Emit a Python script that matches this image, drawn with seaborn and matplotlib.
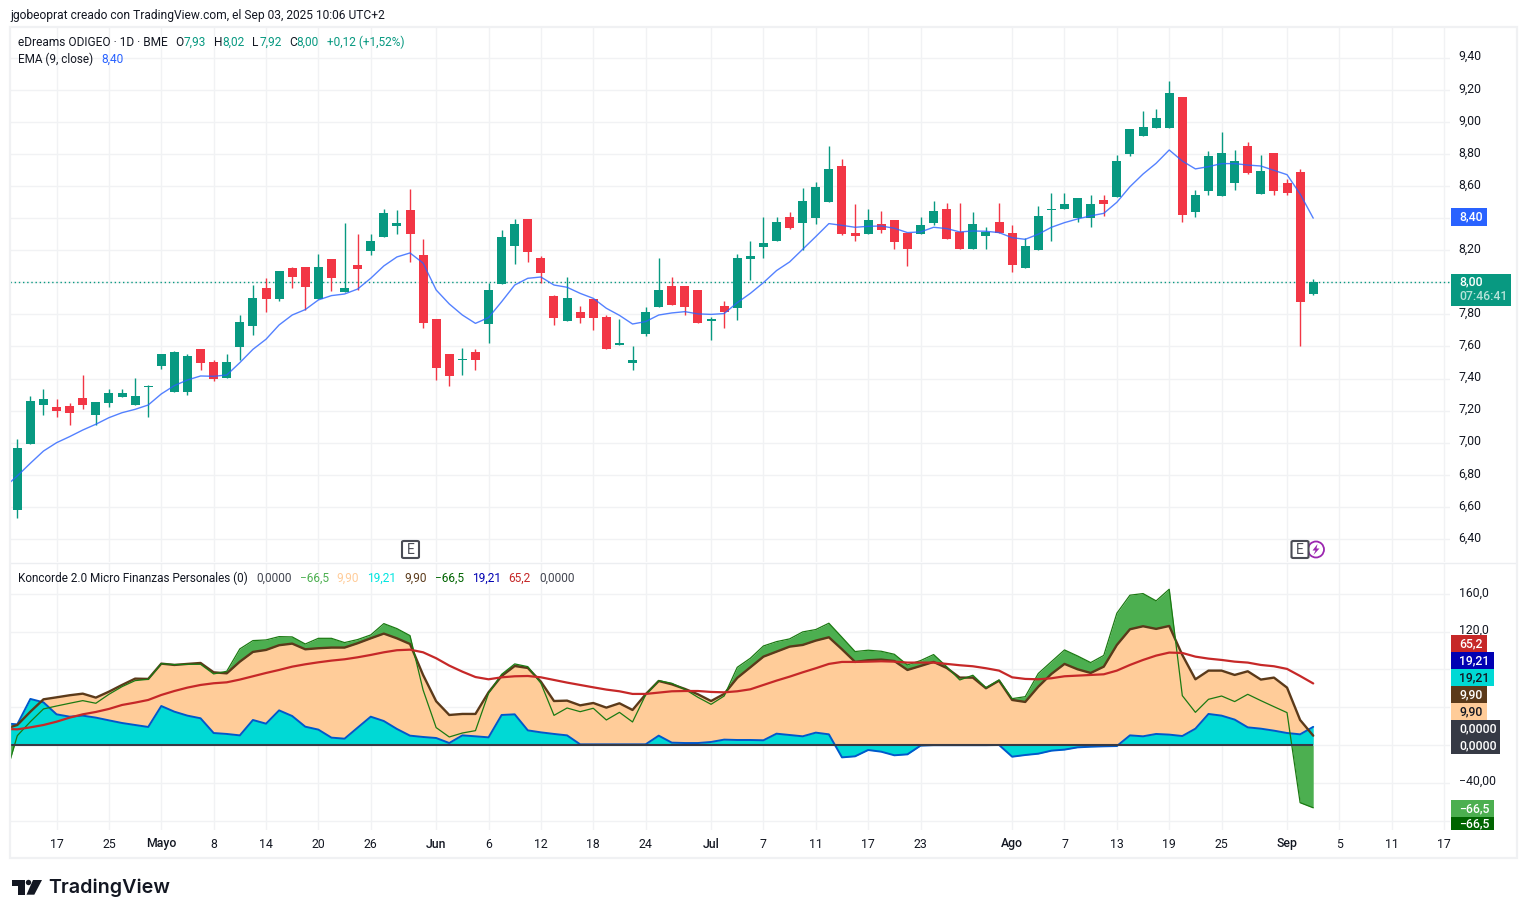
import matplotlib
matplotlib.use("Agg")
import matplotlib.pyplot as plt
import numpy as np
import pandas as pd
import seaborn as sns
from matplotlib.patches import Rectangle, FancyBboxPatch, Polygon, Circle
from matplotlib.transforms import ScaledTranslation

# Daily candles for eDreams ODIGEO (BME)
opens = [6.58,6.99,7.235,7.22,7.23,7.28,7.17,7.25,7.285,7.235,7.345,7.478,7.316,7.316,7.584,7.503,7.403,7.597,7.728,7.965,
         7.896,8.09,8.096,7.896,8.146,7.94,8.109,8.196,8.283,8.352,8.451,8.171,7.771,7.553,7.518,7.566,7.74,7.99,8.227,8.395,
         8.152,7.915,7.759,7.815,7.896,7.784,7.61,7.497,7.678,7.846,7.977,7.977,7.952,7.759,7.852,7.84,8.145,8.22,8.258,8.407,
         8.37,8.401,8.50,8.725,8.308,8.301,8.364,8.389,8.308,8.301,8.37,8.457,8.314,8.208,8.289,8.376,8.308,8.089,8.202,8.451,
         8.457,8.401,8.401,8.513,8.532,8.80,8.912,8.962,8.962,9.155,8.438,8.569,8.538,8.619,8.85,8.551,8.806,8.619,8.688,7.93]
highs = [7.02,7.29,7.335,7.27,7.25,7.42,7.255,7.335,7.335,7.405,7.36,7.553,7.57,7.553,7.584,7.516,7.553,7.796,7.983,8.027,
         8.071,8.096,8.096,8.177,8.146,8.37,8.30,8.30,8.458,8.451,8.582,8.27,7.771,7.553,7.59,7.584,7.996,8.326,8.395,8.395,
         8.164,7.921,8.033,7.852,7.896,7.796,7.771,7.603,7.846,8.152,8.033,7.977,7.952,7.784,7.884,8.177,8.258,8.407,8.407,8.438,
         8.588,8.626,8.85,8.769,8.488,8.457,8.445,8.389,8.308,8.407,8.507,8.495,8.495,8.438,8.345,8.495,8.357,8.276,8.476,8.557,
         8.557,8.526,8.545,8.545,8.794,8.956,9.068,9.081,9.255,9.155,8.576,8.819,8.937,8.825,8.875,8.794,8.806,8.644,8.707,8.02]
lows = [6.53,6.99,7.17,7.16,7.11,7.21,7.11,7.22,7.285,7.235,7.16,7.46,7.316,7.30,7.453,7.385,7.403,7.516,7.672,7.815,
        7.884,7.965,7.827,7.896,7.946,7.94,7.952,8.17,8.283,8.30,8.127,7.715,7.391,7.354,7.422,7.453,7.622,7.99,8.114,8.127,
        7.996,7.734,7.759,7.746,7.703,7.584,7.61,7.453,7.665,7.846,7.859,7.796,7.746,7.64,7.715,7.765,8.015,8.152,8.258,8.333,
        8.20,8.364,8.50,8.295,8.258,8.301,8.308,8.208,8.102,8.301,8.357,8.27,8.208,8.208,8.208,8.308,8.064,8.089,8.202,8.258,
        8.457,8.376,8.345,8.414,8.532,8.788,8.912,8.962,8.962,8.376,8.407,8.545,8.538,8.576,8.675,8.551,8.545,8.545,7.603,7.92]
closes = [6.97,7.26,7.27,7.20,7.185,7.235,7.255,7.31,7.31,7.29,7.35,7.553,7.566,7.54,7.497,7.397,7.503,7.753,7.902,7.896,
          8.071,8.034,7.97,8.096,8.027,7.965,8.084,8.258,8.433,8.37,8.30,7.746,7.466,7.416,7.522,7.516,7.952,8.283,8.364,8.189,
          8.058,7.778,7.902,7.778,7.778,7.584,7.622,7.516,7.815,7.952,7.859,7.846,7.746,7.771,7.815,8.152,8.164,8.245,8.376,8.339,
          8.507,8.594,8.707,8.301,8.289,8.389,8.326,8.251,8.208,8.357,8.445,8.27,8.208,8.364,8.314,8.308,8.108,8.227,8.414,8.457,
          8.488,8.526,8.488,8.488,8.756,8.956,8.968,9.025,9.18,8.42,8.545,8.788,8.806,8.756,8.682,8.694,8.569,8.557,7.877,8.00]

# The indicator series begin one session before the first visible candle
ema9 = [6.72,6.793,6.872,6.948,7.0,7.038,7.079,7.115,7.156,7.187,7.208,7.235,7.304,7.356,7.391,7.416,7.414,7.422,7.499,7.582,7.645,
        7.734,7.796,7.83,7.89,7.917,7.927,7.958,8.025,8.102,8.158,8.183,8.12,7.952,7.865,7.796,7.744,7.78,7.879,7.983,8.025,
        8.033,7.983,7.969,7.931,7.9,7.838,7.794,7.74,7.755,7.796,7.809,7.817,7.803,7.8,7.805,7.873,7.931,7.998,8.073,8.127,
        8.206,8.285,8.366,8.355,8.343,8.349,8.351,8.337,8.31,8.314,8.343,8.335,8.314,8.32,8.318,8.31,8.278,8.268,8.30,8.343,
        8.372,8.395,8.414,8.43,8.499,8.596,8.675,8.742,8.825,8.756,8.707,8.721,8.74,8.74,8.731,8.725,8.698,8.671,8.551,8.40]

# Koncorde components
verde = [-37,9.9,24.7,38.2,41.3,44.2,47,44.2,53.7,61.8,68.2,69.6,86.2,85.2,85.5,85.5,75.3,78.1,101.8,110.6,111.3,
         114.8,114.5,107,113,113,108.5,111.7,116.6,128.6,123.3,115.9,58.3,18.4,8.5,12.7,15.2,54.8,74.9,85.9,83,
         65.4,31.4,39.2,35.3,38.9,26.5,34.6,24.4,53,68.2,65.4,59,50.5,43.1,51.9,82.3,91.9,104.9,109.5,112.4,
         119.8,122.3,129,114.1,99,100.4,99.3,96.1,84.8,89.4,95.8,83,68.9,73.9,60.8,68.9,49.1,51.2,75.8,88.3,
         100.7,94.3,87.3,94.9,139.6,158.7,160.4,152.7,165,52.3,34.6,48.4,51.9,46,53.7,47,40.6,34.3,-61.1,-66.5]
marron = [17,21.2,35.3,48.4,50.5,52.7,54.4,50.2,56.5,63.6,70.3,70,86.2,84.8,85.9,86.9,77,75.9,88.3,98.6,100.7,
          105.7,107.4,101.4,102.5,103.2,103.2,107.8,113,118,113,107,74.2,46.3,31.8,32.9,32.9,55.8,73.1,83.7,81.6,
          67.1,46.6,47,42,44.5,39.6,44.2,37.1,53.7,67.8,64.3,59.4,53.7,46.6,54.1,71.1,82.3,93.6,98.9,104.2,
          106,110.6,114.1,101.4,88,89.8,90.5,89,79.5,83.7,88,81.6,71.4,71.4,60.1,68.2,47.7,45.6,61.8,75.3,
          85.9,80.2,76.3,83,106,122.6,125.8,123,126.1,95.4,69.6,78.8,78.8,74.2,78.1,69.3,71.4,60.8,26.5,9.9]
azul = [22.9,21.9,48.8,45.2,32.5,30,31.1,29,26.1,23.3,21.2,19.1,41.3,35.3,31.1,28.3,12.7,11.7,10.2,26.5,22.6,
        36.7,30.7,19.4,16.3,7.8,6.7,18.4,30,25.4,17,9.9,8.5,7.4,2.1,10.2,9.2,8.1,31.8,32.5,15.5,
        13.4,11.7,10.2,0.7,0.7,0.7,0.7,0.7,0.7,9.9,2.5,2.1,2.1,3.2,5.7,5.3,5.3,5,12,10.6,
        9.2,13.1,11.3,-13.1,-12,-5.3,-7.1,-10.9,-9.9,-0.7,-0.2,-0.2,-0.2,-0.2,-0.2,0,-12.4,-10.6,-9.2,-6,
        -4.9,-2.5,-1.8,-1.4,-1.1,10.2,9.2,11.7,11,9.5,17.3,32.9,31.1,26.9,18.7,17.3,15.2,12.7,11.3,19.21]
media = [17,16.6,18.7,21.2,24.7,29,32.5,35,38.2,42.4,44.9,47.7,53,57.2,60.8,63.6,65.4,66.4,69.3,72.8,76.3,
         79.5,83,85.5,87.6,89.4,90.8,92.9,95.4,98.2,100.4,101,98.2,91.9,84.1,77.7,72,69.6,71.7,72.8,73.1,
         71.7,68.9,66.1,63.6,61.1,58.7,56.9,54.1,54.1,55.5,56.9,57.2,57.2,56.2,55.8,56.9,59,63.6,68.2,72.4,
         77,81.3,85.9,88,88,88.3,88.7,88.3,87.3,87.3,87.3,85.9,84.5,83.4,81.3,78.8,71.7,70,69.6,70.7,
         72.8,73.5,74.2,74.9,78.8,84.8,90.1,94.7,97.9,97.5,93.6,91.5,90.1,88.3,87.3,84.8,83.4,80.6,73.1,65.2]

# Time axis labels and the session each one falls on
time_ticks = [3,7,11,15,19,23,27,32,36,40,44,48,53,57,61,65,69,76,80,84,88,92,97,101,105,109]
time_labels = ["17","25","Mayo","8","14","20","26","Jun","6","12","18","24","Jul","7","11","17","23",
               "Ago","7","13","19","25","Sep","5","11","17"]
month_labels = {"Mayo","Jun","Jul","Ago","Sep"}

price_ticks = [6.4,6.6,6.8,7.0,7.2,7.4,7.6,7.8,8.0,8.2,8.4,8.6,8.8,9.0,9.2,9.4]
price_labels = ["6,40","6,60","6,80","7,00","7,20","7,40","7,60","7,80","","8,20","","8,60","8,80","9,00","9,20","9,40"]
osc_ticks = [-80,-40,0,40,80,120,160]
osc_labels = ["","−40,00","","","","120,0","160,0"]

W, H = 1526, 918
FONT = "Roboto"
TEXT = "#131722"
UP, DOWN = "#089981", "#F23645"
GRID = "#f1f2f4"
SIZE = 8.8

sns.set_theme(style="white", rc={"font.family": FONT})
fig = plt.figure(figsize=(W / 100, H / 100), dpi=100, facecolor="white")


def axes_px(x0, y0, x1, y1):
    """Axes placed from pixel edges, y counted from the top."""
    return fig.add_axes([x0 / W, 1 - y1 / H, (x1 - x0) / W, (y1 - y0) / H])


def fx(x):
    return x / W


def fy(y):
    return 1 - y / H


def label(x, y, s, color=TEXT, size=SIZE, ha="left", **kw):
    fig.text(fx(x), fy(y + 1), s, color=color, fontsize=size, ha=ha, va="center", zorder=8, **kw)


def tag(x0, x1, y0, y1, s, bg, fg="white", tx=None):
    fig.patches.append(Rectangle((fx(x0), fy(y1)), (x1 - x0) / W, (y1 - y0) / H, transform=fig.transFigure,
                                 facecolor=bg, edgecolor="none", zorder=6))
    label(tx if tx is not None else x0 + 8, (y0 + y1) / 2 - 1, s, color=fg, weight="medium")


# x pixel = 17.3 + 13.09 * session
XLIM = ((10 - 17.3) / 13.09, (1450 - 17.3) / 13.09)
ax = axes_px(10, 27, 1450, 562)
osc = axes_px(10, 563, 1450, 830)

sessions = np.arange(len(closes))
candles = pd.DataFrame({"s": sessions, "o": opens, "h": highs, "l": lows, "c": closes})
candles["color"] = np.where(candles.c >= candles.o, UP, DOWN)

# Candlesticks: wick first, then the body on top
ax.vlines(candles.s, candles.l, candles.h, colors=candles.color, lw=1.0, zorder=3)
ax.bar(candles.s, (candles.c - candles.o).abs().clip(lower=0.006), bottom=candles[["o", "c"]].min(axis=1),
       width=9 / 13.09, color=candles.color, linewidth=0, zorder=4)

ind = pd.DataFrame({"s": np.arange(-1, 100), "ema": ema9, "verde": verde, "marron": marron,
                    "azul": azul, "media": media})
sns.lineplot(data=ind, x="s", y="ema", ax=ax, color="#2962FF", lw=1.0, alpha=0.8, zorder=5, errorbar=None, sort=False)
ax.axhline(closes[-1], color=UP, lw=1.0, ls=(0, (1, 2)), zorder=2)

ax.set_ylim(8 - (562 - 282.3) / 160.4, 8 + (282.3 - 27) / 160.4)
ax.set_yticks(price_ticks, price_labels)

# Koncorde stacked areas: green, then peach, then cyan
osc.fill_between(ind.s, 0, ind.verde, color="#4CAF50", lw=0, zorder=2)
osc.fill_between(ind.s, 0, ind.marron, color="#FFCC99", lw=0, zorder=3)
osc.fill_between(ind.s, 0, ind.azul, color="#00D9D5", lw=0, zorder=4)
sns.lineplot(data=ind, x="s", y="azul", ax=osc, color="#0058CC", lw=1.4, zorder=5, errorbar=None, sort=False)
sns.lineplot(data=ind, x="s", y="marron", ax=osc, color="#5B3A1A", lw=1.7, zorder=6, errorbar=None, sort=False)
sns.lineplot(data=ind, x="s", y="verde", ax=osc, color="#1B7A12", lw=0.9, zorder=7, errorbar=None, sort=False)
sns.lineplot(data=ind, x="s", y="media", ax=osc, color="#C62828", lw=1.6, zorder=8, errorbar=None, sort=False)
osc.hlines(0, ind.s.min(), ind.s.max(), color="#363A45", lw=1.5, zorder=7)
osc.set_ylim((745 - 830) / 0.944, (745 - 563) / 0.944)
osc.set_yticks(osc_ticks, osc_labels)

lift = ScaledTranslation(0, 2.5 / 100, fig.dpi_scale_trans)
for a in (ax, osc):
    a.set_xlim(*XLIM)
    a.set_xlabel("")
    a.set_ylabel("")
    a.set_xticks(time_ticks)
    a.grid(True, color=GRID, lw=1.0, zorder=0)
    a.set_axisbelow(True)
    a.yaxis.tick_right()
    a.tick_params(axis="y", length=0, pad=6.2, labelsize=SIZE, labelcolor=TEXT)
    a.tick_params(axis="x", length=0, labelbottom=False)
    for spine in a.spines.values():
        spine.set_visible(False)
    a.patch.set_alpha(0)
    for tick_text in a.get_yticklabels():
        tick_text.set_transform(tick_text.get_transform() + lift)

# Time axis labels sit under the lower pane
for s, txt in zip(time_ticks, time_labels):
    weight = "medium" if txt in month_labels else "normal"
    label(17.3 + 13.09 * s, 843, txt, ha="center", weight=weight)

# Outer frame and pane divider
fig.patches.append(Rectangle((fx(9.5), fy(857.5)), 1507 / W, 831 / H, transform=fig.transFigure,
                             fill=False, edgecolor="#f0f1f3", lw=1.6, zorder=1))
fig.lines.append(plt.Line2D([fx(10), fx(1516)], [fy(562.5), fy(562.5)], transform=fig.transFigure,
                            color="#eceef1", lw=1.0, zorder=1))

# Header and legends
label(10, 14.5, "jgobeoprat creado con TradingView.com, el Sep 03, 2025 10:06 UTC+2", size=8.68)
label(18, 41, "eDreams ODIGEO · 1D · BME", size=8.55)
for x, s, c in [(175.5, "O", TEXT), (184, "7,93", UP),
                (214, "H", TEXT), (222, "8,02", UP), (252.3, "L", TEXT), (260, "7,92", UP),
                (289.3, "C", TEXT), (296.5, "8,00", UP), (326.7, "+0,12 (+1,52%)", UP)]:
    label(x, 41, s, color=c, size=8.6)
label(18, 58, "EMA (9, close)", size=8.5)
label(101.3, 58, "8,40", color="#2962FF", size=8.6)
label(18, 577, "Koncorde 2.0 Micro Finanzas Personales (0)", size=8.45)
for x, s, c in [(256.7, "0,0000", "#434651"), (300, "−66,5", "#4CAF50"), (336.7, "9,90", "#FFCC99"),
                (367.3, "19,21", "#00E5E0"), (404, "9,90", "#5B3A1A"), (434.7, "−66,5", "#006400"),
                (472, "19,21", "#0000B3"), (508, "65,2", "#C62828"), (539, "0,0000", "#434651")]:
    label(x, 577, s, color=c, size=8.6)

# Price scale value tags
tag(1451, 1487, 208, 226, "8,40", "#2962FF")
fig.patches.append(Rectangle((fx(1451), fy(306)), 60 / W, 32 / H, transform=fig.transFigure,
                             facecolor=UP, edgecolor="none", zorder=6))
label(1459, 281, "8,00", color="white", weight="medium")
label(1459, 295, "07:46:41", color="#b5e3d9", weight="medium")
tag(1451, 1487, 635, 652, "65,2", "#C62828")
tag(1451, 1494, 652, 669, "19,21", "#0000B3")
tag(1451, 1494, 669, 686, "19,21", "#00D9D5", fg=TEXT)
tag(1451, 1487, 686, 703, "9,90", "#5B3A1A")
tag(1451, 1487, 703, 720, "9,90", "#FFCC99", fg=TEXT)
tag(1451, 1500, 720, 737, "0,0000", "#363A45")
tag(1451, 1500, 737, 754, "0,0000", "#363A45")
tag(1451, 1494, 800, 817, "−66,5", "#4CAF50")
tag(1451, 1494, 817, 830, "−66,5", "#006400")

# Earnings and dividend markers on the time axis
bolt_ring = Circle((1316, H - 549.5), 8, transform=None, facecolor="white", edgecolor="#9C27B0", lw=1.3, zorder=6)
fig.patches.append(bolt_ring)
fig.patches.append(Polygon([(fx(1317.5), fy(544)), (fx(1312.5), fy(550.5)), (fx(1315.5), fy(550.5)), (fx(1313.5), fy(555)),
                            (fx(1319.5), fy(548.5)), (fx(1316.5), fy(548.5))], closed=True,
                           transform=fig.transFigure, facecolor="#9C27B0", edgecolor="none", zorder=7))
for cx in (410.5, 1300):
    fig.patches.append(FancyBboxPatch((fx(cx - 8.5), fy(558)), 17 / W, 17 / H, transform=fig.transFigure,
                                      boxstyle="round,pad=0,rounding_size=0.0012", facecolor="white",
                                      edgecolor="#4a4c55", lw=1.5, zorder=7))
    label(cx, 548.5, "E", color="#4a4c55", ha="center", size=10)

# TradingView wordmark
black = "#131722"
fig.patches.append(Polygon([(fx(12), fy(880)), (fx(25.3), fy(880)), (fx(25.3), fy(894.7)), (fx(18.3), fy(894.7)),
                            (fx(18.3), fy(885.5)), (fx(12), fy(885.5))], closed=True, transform=fig.transFigure,
                           facecolor=black, edgecolor="none", zorder=7))
fig.patches.append(Circle((28.5, H - 882.5), 2.7, transform=None, facecolor=black, edgecolor="none", zorder=7))
fig.patches.append(Polygon([(fx(33), fy(880)), (fx(42), fy(880)), (fx(34.3), fy(894.7)), (fx(26.5), fy(894.7))],
                           closed=True, transform=fig.transFigure, facecolor=black, edgecolor="none", zorder=7))
label(48.5, 887, "TradingView", color=black, size=14.2, weight="semibold", family="Inter")

fig.savefig("out.png", dpi=100, facecolor="white")
